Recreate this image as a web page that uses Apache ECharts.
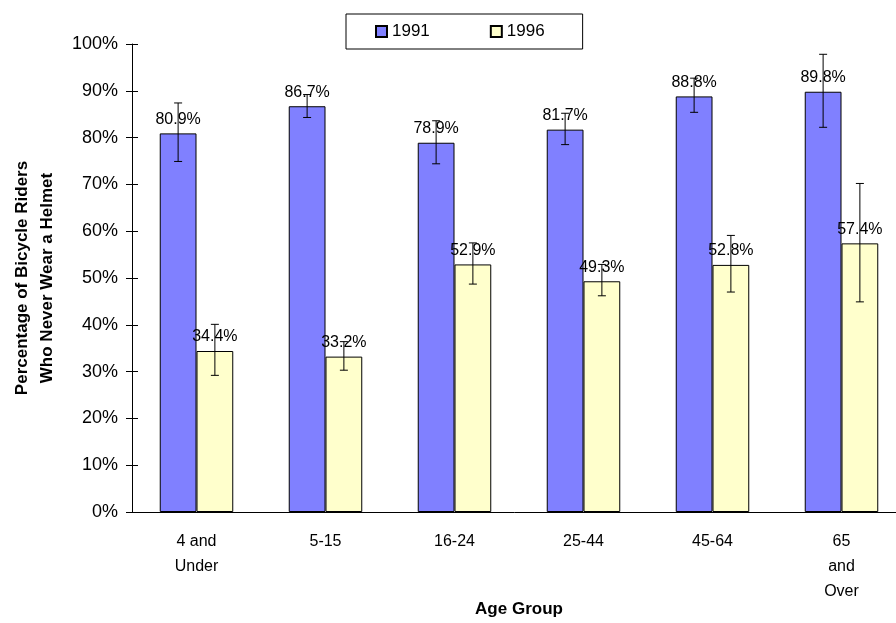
<!DOCTYPE html>
<html>
<head>
<meta charset="utf-8">
<script src="https://cdn.jsdelivr.net/npm/echarts@6/dist/echarts.min.js"></script>
<style>
  html, body { margin: 0; padding: 0; background: #fff; }
  #chart { width: 896px; height: 623px; }
</style>
</head>
<body>
<div id="chart"></div>
<script>
// age groups on the x axis
const categories = ['4 and\nUnder', '5-15', '16-24', '25-44', '45-64', '65\nand\nOver'];
const seriesNames = ['1991', '1996'];

// percent who never wear a helmet
const values1991 = [80.9, 86.7, 78.9, 81.7, 88.8, 89.8];
const values1996 = [34.4, 33.2, 52.9, 49.3, 52.8, 57.4];

// error bar ends
const errLow1991 = [74.9, 84.3, 74.4, 78.5, 85.4, 82.2];
const errHigh1991 = [87.4, 89.2, 83.6, 85.2, 92.7, 97.8];
const errLow1996 = [29.2, 30.3, 48.7, 46.2, 47.0, 44.9];
const errHigh1996 = [40.1, 36.4, 57.5, 52.9, 59.1, 70.2];

const FONT = 'Liberation Sans, Arial, sans-serif';
const GAP = 0.43; // barCategoryGap

function errorData(lo, hi) {
  return lo.map((v, i) => [i, v, hi[i]]);
}

// side: -1 = left bar of the pair, 1 = right bar
function errorRenderer(side) {
  return function (params, api) {
    const idx = api.value(0);
    const lo = api.coord([idx, api.value(1)]);
    const hi = api.coord([idx, api.value(2)]);
    const band = api.size([1, 0])[0];
    const bw = band * (1 - GAP) / 2;
    const x = lo[0] + side * bw / 2;
    const cap = 4;
    const style = { stroke: '#000', lineWidth: 1 };
    return {
      type: 'group',
      children: [
        { type: 'line', shape: { x1: x, y1: hi[1], x2: x, y2: lo[1] }, style: style },
        { type: 'line', shape: { x1: x - cap, y1: hi[1], x2: x + cap, y2: hi[1] }, style: style },
        { type: 'line', shape: { x1: x - cap, y1: lo[1], x2: x + cap, y2: lo[1] }, style: style }
      ]
    };
  };
}

const chart = echarts.init(document.getElementById('chart'));

const barLabel = {
  show: true,
  position: 'top',
  distance: 6,
  formatter: '{c}%',
  color: '#000',
  fontFamily: FONT,
  fontSize: 16
};

chart.setOption({
  animation: false,
  textStyle: { fontFamily: FONT },
  legend: {
    data: seriesNames,
    icon: 'rect',
    left: 346,
    top: 14,
    padding: [9, 38, 9, 29],
    itemWidth: 11,
    itemHeight: 11,
    itemGap: 60,
    borderColor: '#000',
    borderWidth: 1,
    backgroundColor: '#fff',
    textStyle: { fontSize: 17, color: '#000', fontFamily: FONT }
  },
  grid: { left: 132, top: 44, width: 774, height: 468, containLabel: false, outerBoundsMode: 'none' },
  xAxis: [
    {
      type: 'category',
      data: categories,
      name: 'Age Group',
      nameLocation: 'middle',
      nameGap: 89,
      nameMoveOverlap: false,
      nameTextStyle: { fontSize: 17, fontWeight: 'bold', color: '#000', fontFamily: FONT },
      axisLine: { lineStyle: { color: '#000', width: 1 } },
      axisTick: { length: 6, lineStyle: { color: '#000' } },
      axisLabel: { color: '#000', fontSize: 16, lineHeight: 25, margin: 17, fontFamily: FONT }
    },
    {
      type: 'category',
      data: categories,
      position: 'bottom',
      axisLine: { show: false },
      axisTick: { inside: true, length: 6, lineStyle: { color: '#000' } },
      axisLabel: { show: false }
    }
  ],
  yAxis: [
    {
      type: 'value',
      min: 0,
      max: 100,
      interval: 10,
      name: 'Percentage of Bicycle Riders\nWho Never Wear a Helmet',
      nameLocation: 'middle',
      nameGap: 72,
      nameMoveOverlap: false,
      nameTextStyle: { fontSize: 17, fontWeight: 'bold', color: '#000', fontFamily: FONT, lineHeight: 25 },
      axisLine: { show: true, lineStyle: { color: '#000', width: 1 } },
      axisTick: { show: true, length: 6, lineStyle: { color: '#000' } },
      axisLabel: { color: '#000', fontSize: 18, margin: 14, formatter: '{value}%', fontFamily: FONT },
      splitLine: { show: false }
    },
    {
      type: 'value',
      min: 0,
      max: 100,
      interval: 10,
      position: 'left',
      axisLine: { show: false },
      axisTick: { show: true, inside: true, length: 6, lineStyle: { color: '#000' } },
      axisLabel: { show: false },
      splitLine: { show: false }
    }
  ],
  series: [
    {
      name: seriesNames[0],
      type: 'bar',
      data: values1991,
      barGap: 0,
      barCategoryGap: (GAP * 100) + '%',
      itemStyle: { color: '#8080FF', borderColor: '#000', borderWidth: 1 },
      label: barLabel
    },
    {
      name: seriesNames[1],
      type: 'bar',
      data: values1996,
      barGap: 0,
      barCategoryGap: (GAP * 100) + '%',
      itemStyle: { color: '#FFFFCC', borderColor: '#000', borderWidth: 1 },
      label: barLabel
    },
    {
      type: 'custom',
      renderItem: errorRenderer(-1),
      data: errorData(errLow1991, errHigh1991),
      encode: { x: 0, y: [1, 2] },
      z: 10,
      silent: true
    },
    {
      type: 'custom',
      renderItem: errorRenderer(1),
      data: errorData(errLow1996, errHigh1996),
      encode: { x: 0, y: [1, 2] },
      z: 10,
      silent: true
    }
  ]
});
</script>
</body>
</html>
